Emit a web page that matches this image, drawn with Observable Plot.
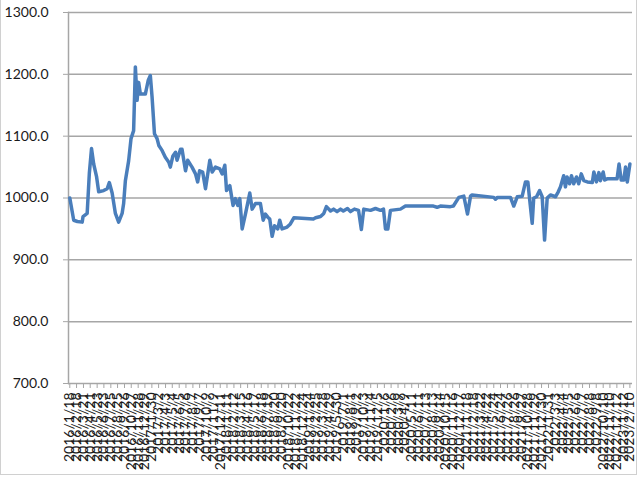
<!DOCTYPE html>
<html>
<head>
<meta charset="utf-8">
<script src="https://cdn.jsdelivr.net/npm/d3@7"></script>
<script src="https://cdn.jsdelivr.net/npm/@observablehq/plot@0.6"></script>
<style>
  html, body { margin: 0; padding: 0; background: #fff; }
  #wrap { position: relative; width: 640px; height: 480px; overflow: hidden; }
  #border { position: absolute; left: 0; top: -1px; width: 635px; height: 474px; border: 1px solid #d0d0d0; pointer-events: none; }
</style>
</head>
<body>
<div id="wrap"><div id="chart"></div><div id="border"></div></div>
<script>
const dates = [
  "2016-01-18","2016-02-05","2016-02-22","2016-03-15","2016-03-19","2016-04-07","2016-04-17","2016-04-27",
  "2016-05-07","2016-05-20","2016-05-30","2016-06-22","2016-07-08","2016-07-18","2016-07-31","2016-08-15",
  "2016-08-30","2016-09-15","2016-09-22","2016-09-30","2016-10-15","2016-10-26","2016-11-07","2016-11-15",
  "2016-11-23","2016-11-30","2016-12-08","2016-12-31","2017-01-13","2017-01-23","2017-01-31","2017-02-11",
  "2017-02-23","2017-03-03","2017-03-18","2017-04-02","2017-04-18","2017-04-25","2017-05-07","2017-05-19",
  "2017-05-26","2017-06-11","2017-06-18","2017-06-26","2017-07-04","2017-07-14","2017-08-03","2017-08-19",
  "2017-08-29","2017-09-07","2017-09-21","2017-10-04","2017-10-24","2017-11-04","2017-11-19","2017-12-09",
  "2017-12-20","2018-01-01","2018-01-09","2018-01-24","2018-02-08","2018-02-19","2018-03-02","2018-03-11",
  "2018-03-22","2018-04-06","2018-04-26","2018-05-07","2018-05-22","2018-06-14","2018-06-27","2018-07-07",
  "2018-07-18","2018-07-27","2018-08-07","2018-08-18","2018-09-02","2018-09-11","2018-09-22","2018-10-15",
  "2018-10-30","2018-11-15","2019-02-13","2019-02-23","2019-03-18","2019-04-02","2019-04-14","2019-05-03",
  "2019-05-17","2019-06-02","2019-06-18","2019-07-01","2019-07-20","2019-08-03","2019-08-21","2019-09-09",
  "2019-09-22","2019-10-03","2019-11-03","2019-11-26","2019-12-19","2020-01-02","2020-01-11","2020-01-22",
  "2020-02-03","2020-03-20","2020-04-12","2020-08-19","2020-09-05","2020-09-20","2020-11-05","2020-11-19",
  "2020-12-14","2021-01-06","2021-01-23","2021-02-06","2021-02-13","2021-05-24","2021-06-01","2021-06-10",
  "2021-08-09","2021-08-24","2021-09-09","2021-10-02","2021-10-17","2021-10-28","2021-11-04","2021-11-17",
  "2021-11-24","2021-12-07","2021-12-21","2022-01-02","2022-01-13","2022-01-25","2022-02-09","2022-03-04",
  "2022-03-17","2022-03-27","2022-04-11","2022-04-19","2022-04-27","2022-05-08","2022-05-17","2022-05-27",
  "2022-06-09","2022-06-19","2022-07-01","2022-07-13","2022-07-29","2022-08-21","2022-08-28","2022-09-09",
  "2022-09-20","2022-09-27","2022-10-10","2022-10-17","2022-10-28","2022-12-13","2022-12-22","2023-01-01",
  "2023-01-13","2023-01-21","2023-01-29","2023-02-10"
];
const values = [
  1000, 964, 962, 961, 970, 975, 1040, 1080,
  1055, 1035, 1010, 1012, 1015, 1025, 1008, 975,
  961, 975, 991, 1028, 1060, 1096, 1109, 1212,
  1158, 1187, 1168, 1168, 1190, 1198, 1163, 1104,
  1096, 1085, 1077, 1066, 1058, 1050, 1068, 1074,
  1061, 1079, 1079, 1061, 1044, 1061, 1050, 1039,
  1026, 1044, 1042, 1015, 1061, 1042, 1050, 1047,
  1039, 1053, 1012, 1020, 988, 999, 988, 999,
  950, 974, 1008, 982, 991, 991, 964, 974,
  969, 966, 938, 955, 950, 964, 950, 953,
  958, 968, 966, 968, 970, 975, 986, 979,
  982, 978, 982, 979, 983, 978, 982, 980,
  949, 982, 980, 983, 980, 982, 950, 950,
  980, 982, 987, 987, 985, 987, 986, 987,
  1001, 1003, 974, 1003, 1005, 1001, 998, 1001,
  1001, 987, 1002, 1003, 1026, 1026, 1002, 959,
  1000, 1002, 1012, 1002, 932, 1000, 1005, 1002,
  1010, 1018, 1036, 1018, 1034, 1023, 1036, 1023,
  1034, 1023, 1039, 1028, 1026, 1025, 1042, 1026,
  1041, 1028, 1042, 1029, 1031, 1031, 1055, 1029,
  1029, 1050, 1026, 1055
];
const xTickLabels = [
  "2016/1/18","2016/2/18","2016/3/21","2016/4/21","2016/5/23","2016/6/23","2016/7/25","2016/8/25","2016/9/26","2016/10/27","2016/11/28","2016/12/29",
  "2017/1/30","2017/3/2","2017/4/3","2017/5/4","2017/6/5","2017/7/6","2017/8/7","2017/9/7","2017/10/9","2017/11/9","2017/12/11",
  "2018/1/11","2018/2/12","2018/3/15","2018/4/16","2018/5/17","2018/6/18","2018/7/19","2018/8/20","2018/9/20","2018/10/22","2018/11/22","2018/12/24",
  "2019/1/24","2019/2/25","2019/3/28","2019/4/29","2019/5/30","2019/7/1","2019/8/1","2019/9/2","2019/10/3","2019/11/4","2019/12/5",
  "2020/1/6","2020/2/6","2020/3/9","2020/4/9","2020/5/11","2020/6/11","2020/7/13","2020/8/13","2020/9/14","2020/10/15","2020/11/16","2020/12/17",
  "2021/1/18","2021/2/18","2021/3/22","2021/4/22","2021/5/24","2021/6/24","2021/7/26","2021/8/26","2021/9/27","2021/10/28","2021/11/29","2021/12/30",
  "2022/1/31","2022/3/3","2022/4/4","2022/5/5","2022/6/6","2022/7/7","2022/8/8","2022/9/8","2022/10/10","2022/11/10","2022/12/12",
  "2023/1/12","2023/2/10"
];
const yTicks = [700, 800, 900, 1000, 1100, 1200, 1300];

const parseTick = d3.utcParse("%Y/%m/%d");
const data = dates.map((d, i) => ({date: new Date(d), value: values[i]}));
const xTicks = xTickLabels.map(parseTick);
const fmt = d3.utcFormat("%Y/%-m/%-d");

const chart = Plot.plot({
  width: 640,
  height: 480,
  marginLeft: 68,
  marginRight: 8,
  marginTop: 12,
  marginBottom: 97,
  style: {fontFamily: "Lato, 'Liberation Sans', sans-serif", fontSize: "14px", color: "#1a1a1a", background: "#fff"},
  x: {type: "utc", domain: [new Date("2016-01-12"), new Date("2023-02-22")]},
  y: {domain: [700, 1300]},
  marks: [
    Plot.gridY(yTicks, {stroke: "#a6a6a6", strokeOpacity: 1, strokeWidth: 1.5}),
    Plot.frame({anchor: "left", stroke: "#a6a6a6", strokeWidth: 1.5}),
    Plot.axisY({ticks: yTicks, tickSize: 5, tickPadding: 15, tickFormat: d => d.toFixed(1), stroke: "#a6a6a6", label: null, fontSize: 14}),
    Plot.axisX({ticks: xTicks, tickSize: 5, tickPadding: 4, tickRotate: -90, tickFormat: fmt, stroke: "#a6a6a6", label: null, fontSize: 14}),
    Plot.line(data, {x: "date", y: "value", stroke: "#4a7ebb", strokeWidth: 3.5, strokeLinejoin: "round", strokeLinecap: "round"})
  ]
});
document.getElementById("chart").appendChild(chart);
</script>
</body>
</html>
